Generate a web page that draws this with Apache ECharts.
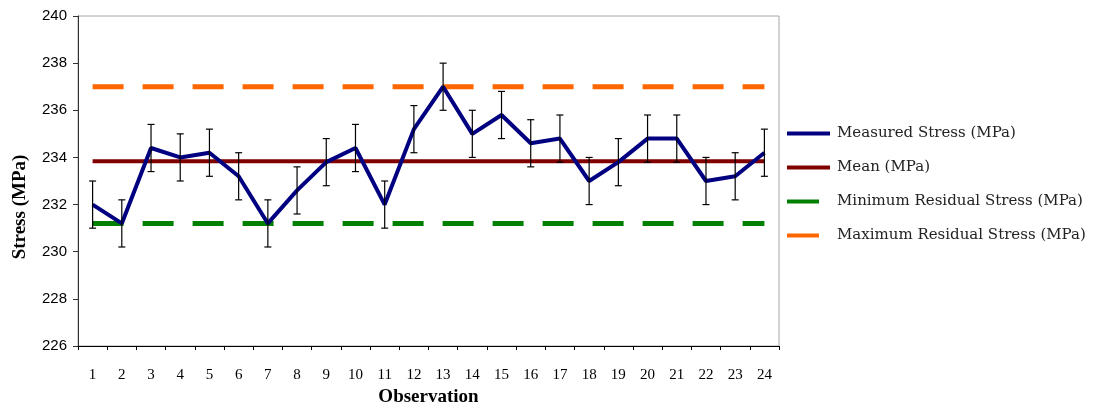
<!DOCTYPE html>
<html>
<head>
<meta charset="utf-8">
<script src="https://cdn.jsdelivr.net/npm/echarts@6/dist/echarts.min.js"></script>
<style>
  html, body { margin: 0; padding: 0; background: #fff; }
  #chart { width: 1103px; height: 409px; }
</style>
</head>
<body>
<div id="chart"></div>
<script>
// Observation numbers on the category axis
var observations = ['1','2','3','4','5','6','7','8','9','10','11','12','13','14','15','16','17','18','19','20','21','22','23','24'];
// Measured stress per observation (MPa)
var measured = [232.0, 231.2, 234.4, 234.0, 234.2, 233.2, 231.2, 232.6, 233.8, 234.4, 232.0, 235.2,
                237.0, 235.0, 235.8, 234.6, 234.8, 233.0, 233.8, 234.8, 234.8, 233.0, 233.2, 234.2];
// Measurement uncertainty (± MPa)
var uncertainty = [1, 1, 1, 1, 1, 1, 1, 1, 1, 1, 1, 1, 1, 1, 1, 1, 1, 1, 1, 1, 1, 1, 1, 1];
// Reference levels (MPa)
var meanStress = 233.84;
var minResidual = 231.2;
var maxResidual = 237.0;
var yTicks = [226, 228, 230, 232, 234, 236, 238, 240];

var meanLine = observations.map(function () { return meanStress; });
var minLine = observations.map(function () { return minResidual; });
var maxLine = observations.map(function () { return maxResidual; });
var errorData = measured.map(function (v, i) { return [i, v - uncertainty[i], v + uncertainty[i]]; });

var chart = echarts.init(document.getElementById('chart'), null, { renderer: 'canvas' });

var serif = 'Liberation Serif';
function legendText(padLeft) {
  return { fontFamily: 'DejaVu Serif', fontSize: 15, color: '#222', padding: [0, 0, 0, padLeft] };
}
var option = {
  animation: false,
  backgroundColor: '#ffffff',
  grid: {
    left: 78, right: 324, top: 16, bottom: 63,
    outerBoundsMode: 'none', containLabel: false,
    show: true, borderColor: '#a6a6a6', borderWidth: 1, backgroundColor: 'transparent'
  },
  legend: [
    {
      orient: 'vertical', left: 787, top: 126, padding: 0,
      itemWidth: 43, itemHeight: 4, itemGap: 19, icon: 'rect',
      textStyle: legendText(2),
      data: ['Measured Stress (MPa)', 'Mean (MPa)']
    },
    {
      orient: 'vertical', left: 787, top: 194, padding: 0,
      itemWidth: 32, itemHeight: 4, itemGap: 19, icon: 'rect',
      textStyle: legendText(13),
      data: ['Minimum Residual Stress (MPa)', 'Maximum Residual Stress (MPa)']
    }
  ],
  xAxis: {
    type: 'category',
    data: observations,
    boundaryGap: true,
    name: 'Observation',
    nameLocation: 'middle',
    nameGap: 41,
    nameTextStyle: { fontFamily: serif, fontWeight: 'bold', fontSize: 19, color: '#000' },
    axisLine: { lineStyle: { color: '#000', width: 1 } },
    axisTick: { show: true, length: 4, alignWithLabel: false, lineStyle: { color: '#000' } },
    axisLabel: { fontFamily: serif, fontSize: 15, color: '#000', margin: 22 },
    splitLine: { show: false }
  },
  yAxis: {
    type: 'value',
    min: yTicks[0],
    max: yTicks[yTicks.length - 1],
    interval: 2,
    axisLine: { show: true, lineStyle: { color: '#333', width: 1 } },
    axisTick: { show: true, length: 5, lineStyle: { color: '#333' } },
    axisLabel: { fontFamily: 'Liberation Sans', fontSize: 15, color: '#000', margin: 11 },
    splitLine: { show: false }
  },
  graphic: [{
    type: 'text',
    x: 20, y: 207,
    rotation: Math.PI / 2,
    style: { text: 'Stress (MPa)', font: 'bold 19px "Liberation Serif"', fill: '#000', align: 'center', verticalAlign: 'middle' }
  }],
  series: [
    {
      name: 'Minimum Residual Stress (MPa)', type: 'line', data: minLine, symbol: 'none', z: 2,
      lineStyle: { color: '#008000', width: 5, type: [31, 19] }, itemStyle: { color: '#008000' }
    },
    {
      name: 'Maximum Residual Stress (MPa)', type: 'line', data: maxLine, symbol: 'none', z: 2,
      lineStyle: { color: '#ff6600', width: 5, type: [31, 19] }, itemStyle: { color: '#ff6600' }
    },
    {
      name: 'Mean (MPa)', type: 'line', data: meanLine, symbol: 'none', z: 3,
      lineStyle: { color: '#800000', width: 4 }, itemStyle: { color: '#800000' }
    },
    {
      name: 'Measured Stress (MPa)', type: 'line', data: measured, symbol: 'none', z: 4,
      lineStyle: { color: '#000080', width: 4 }, itemStyle: { color: '#000080' }
    },
    {
      name: 'Error', type: 'custom', z: 5,
      data: errorData,
      encode: { x: 0, y: [1, 2] },
      renderItem: function (params, api) {
        var idx = api.value(0);
        var lo = api.coord([idx, api.value(1)]);
        var hi = api.coord([idx, api.value(2)]);
        var cap = 3.5;
        var style = { stroke: '#000', lineWidth: 1.2, fill: null };
        return {
          type: 'group',
          children: [
            { type: 'line', shape: { x1: lo[0], y1: lo[1], x2: hi[0], y2: hi[1] }, style: style },
            { type: 'line', shape: { x1: lo[0] - cap, y1: lo[1], x2: lo[0] + cap, y2: lo[1] }, style: style },
            { type: 'line', shape: { x1: hi[0] - cap, y1: hi[1], x2: hi[0] + cap, y2: hi[1] }, style: style }
          ]
        };
      }
    }
  ]
};
chart.setOption(option);
</script>
</body>
</html>
